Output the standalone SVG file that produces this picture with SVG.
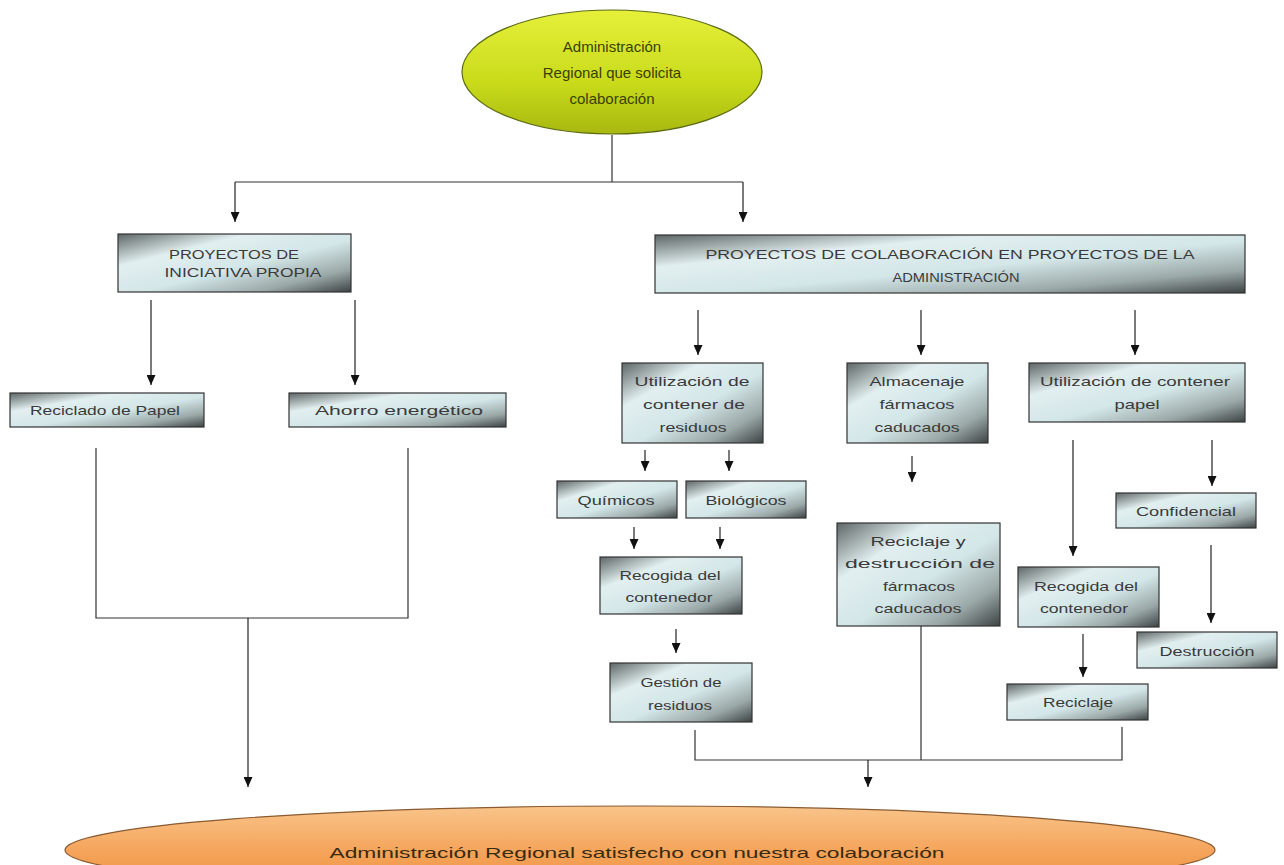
<svg xmlns="http://www.w3.org/2000/svg" width="1284" height="865" viewBox="0 0 1284 865">
<defs>
<linearGradient id="metal" x1="0" y1="0" x2="1" y2="1">
<stop offset="0" stop-color="#5e6666"/>
<stop offset="0.28" stop-color="#e2eff0"/>
<stop offset="0.55" stop-color="#d3e6e8"/>
<stop offset="0.8" stop-color="#9ba8a8"/>
<stop offset="1" stop-color="#3c4242"/>
</linearGradient>
<linearGradient id="green" x1="0" y1="0" x2="0" y2="1">
<stop offset="0" stop-color="#e6f03a"/>
<stop offset="0.6" stop-color="#c8da1a"/>
<stop offset="1" stop-color="#a8b810"/>
</linearGradient>
<linearGradient id="orange" x1="0" y1="0" x2="0" y2="1">
<stop offset="0" stop-color="#f9c48a"/>
<stop offset="0.5" stop-color="#f5a55c"/>
<stop offset="1" stop-color="#ee8e3c"/>
</linearGradient>
<marker id="arr" markerWidth="10" markerHeight="9" refX="10" refY="4.5" orient="auto" markerUnits="userSpaceOnUse" viewBox="0 0 10 9">
<path d="M0,0 L10,4.5 L0,9 Z" fill="#111"/>
</marker>
</defs>
<style>
.box{fill:url(#metal);stroke:#333;stroke-width:1.2}
.t{font-family:"Liberation Sans",Arial,sans-serif;font-size:13px;fill:#3a3a3a;text-anchor:middle}
.c{fill:none;stroke:#333;stroke-width:1.2}
.a{fill:none;stroke:#222;stroke-width:1.2;marker-end:url(#arr)}
</style>
<rect width="1284" height="865" fill="#fff"/>

<g id="connectors">
<path class="c" d="M612,135 V182 M235,182 H743"/>
<path class="a" d="M235,182 V222"/>
<path class="a" d="M743,182 V222"/>
<path class="a" d="M151,300 V385"/>
<path class="a" d="M355,300 V385"/>
<path class="c" d="M96,448 V618 H408 V448"/>
<path class="a" d="M248,618 V787"/>
<path class="a" d="M698,310 V355"/>
<path class="a" d="M921,310 V355"/>
<path class="a" d="M1135,310 V355"/>
<path class="a" d="M645,450 V471"/>
<path class="a" d="M729,450 V471"/>
<path class="a" d="M634,527 V549"/>
<path class="a" d="M720,527 V549"/>
<path class="a" d="M676,629 V653"/>
<path class="a" d="M912,456 V482"/>
<path class="a" d="M1073,440 V556"/>
<path class="a" d="M1212,440 V486"/>
<path class="a" d="M1211,545 V623"/>
<path class="a" d="M1083,634 V677"/>
<path class="c" d="M695,730 V760 H1122 V727 M921,626 V760"/>
<path class="a" d="M868,760 V787"/>
</g>

<g id="n-top">
<ellipse cx="612" cy="72" rx="150" ry="62" fill="url(#green)" stroke="#5a6a10" stroke-width="1.2"/>
<text class="t" x="612" y="52" style="font-size:15px;fill:#3a4000">Administración</text>
<text class="t" x="612" y="78" style="font-size:15px;fill:#3a4000">Regional que solicita</text>
<text class="t" x="612" y="104" style="font-size:15px;fill:#3a4000">colaboración</text>
</g>

<g id="n-propia">
<rect class="box" x="118" y="234" width="233" height="58"/>
<text class="t" x="234" y="259" textLength="130" lengthAdjust="spacingAndGlyphs">PROYECTOS DE</text>
<text class="t" x="243" y="277" textLength="157" lengthAdjust="spacingAndGlyphs">INICIATIVA PROPIA</text>
</g>

<g id="n-colab">
<rect class="box" x="655" y="235" width="590" height="58"/>
<text class="t" x="950" y="259" textLength="489" lengthAdjust="spacingAndGlyphs">PROYECTOS DE COLABORACIÓN EN PROYECTOS DE LA</text>
<text class="t" x="956" y="282" textLength="127" lengthAdjust="spacingAndGlyphs">ADMINISTRACIÓN</text>
</g>

<g id="n-papel">
<rect class="box" x="10" y="393" width="194" height="34"/>
<text class="t" x="105" y="415" textLength="150" lengthAdjust="spacingAndGlyphs">Reciclado de Papel</text>
</g>

<g id="n-ahorro">
<rect class="box" x="289" y="393" width="217" height="34"/>
<text class="t" x="399" y="415" textLength="168" lengthAdjust="spacingAndGlyphs">Ahorro energético</text>
</g>

<g id="n-util-res">
<rect class="box" x="622" y="363" width="141" height="80"/>
<text class="t" x="692" y="386" textLength="115" lengthAdjust="spacingAndGlyphs">Utilización de</text>
<text class="t" x="694" y="409" textLength="102" lengthAdjust="spacingAndGlyphs">contener de</text>
<text class="t" x="693" y="432" textLength="67" lengthAdjust="spacingAndGlyphs">residuos</text>
</g>

<g id="n-almac">
<rect class="box" x="847" y="363" width="141" height="80"/>
<text class="t" x="917" y="386" textLength="95" lengthAdjust="spacingAndGlyphs">Almacenaje</text>
<text class="t" x="917" y="409" textLength="75" lengthAdjust="spacingAndGlyphs">fármacos</text>
<text class="t" x="917" y="432" textLength="85" lengthAdjust="spacingAndGlyphs">caducados</text>
</g>

<g id="n-util-pap">
<rect class="box" x="1029" y="363" width="216" height="59"/>
<text class="t" x="1135" y="386" textLength="190" lengthAdjust="spacingAndGlyphs">Utilización de contener</text>
<text class="t" x="1137" y="409" textLength="45" lengthAdjust="spacingAndGlyphs">papel</text>
</g>

<g id="n-quim">
<rect class="box" x="557" y="481" width="120" height="37"/>
<text class="t" x="616" y="505" textLength="77" lengthAdjust="spacingAndGlyphs">Químicos</text>
</g>

<g id="n-bio">
<rect class="box" x="686" y="481" width="120" height="37"/>
<text class="t" x="746" y="505" textLength="81" lengthAdjust="spacingAndGlyphs">Biológicos</text>
</g>

<g id="n-recog1">
<rect class="box" x="600" y="557" width="142" height="57"/>
<text class="t" x="670" y="580" textLength="101" lengthAdjust="spacingAndGlyphs">Recogida del</text>
<text class="t" x="669" y="602" textLength="87" lengthAdjust="spacingAndGlyphs">contenedor</text>
</g>

<g id="n-gestion">
<rect class="box" x="610" y="663" width="142" height="59"/>
<text class="t" x="681" y="687" textLength="81" lengthAdjust="spacingAndGlyphs">Gestión de</text>
<text class="t" x="680" y="710" textLength="64" lengthAdjust="spacingAndGlyphs">residuos</text>
</g>

<g id="n-recdes">
<rect class="box" x="837" y="523" width="163" height="103"/>
<text class="t" x="918" y="546" textLength="95" lengthAdjust="spacingAndGlyphs">Reciclaje y</text>
<text class="t" x="920" y="568" textLength="150" lengthAdjust="spacingAndGlyphs">destrucción de</text>
<text class="t" x="919" y="591" textLength="72" lengthAdjust="spacingAndGlyphs">fármacos</text>
<text class="t" x="918" y="613" textLength="87" lengthAdjust="spacingAndGlyphs">caducados</text>
</g>

<g id="n-conf">
<rect class="box" x="1116" y="493" width="140" height="35"/>
<text class="t" x="1186" y="516" textLength="100" lengthAdjust="spacingAndGlyphs">Confidencial</text>
</g>

<g id="n-recog2">
<rect class="box" x="1018" y="567" width="141" height="60"/>
<text class="t" x="1086" y="591" textLength="104" lengthAdjust="spacingAndGlyphs">Recogida del</text>
<text class="t" x="1084" y="613" textLength="88" lengthAdjust="spacingAndGlyphs">contenedor</text>
</g>

<g id="n-destr">
<rect class="box" x="1137" y="632" width="140" height="36"/>
<text class="t" x="1207" y="656" textLength="95" lengthAdjust="spacingAndGlyphs">Destrucción</text>
</g>

<g id="n-recic">
<rect class="box" x="1007" y="684" width="141" height="36"/>
<text class="t" x="1078" y="707" textLength="70" lengthAdjust="spacingAndGlyphs">Reciclaje</text>
</g>

<g id="n-bottom">
<ellipse cx="640" cy="850" rx="575" ry="44" fill="url(#orange)" stroke="#8a5a30" stroke-width="1.2"/>
<text class="t" x="637" y="858" style="font-size:15px;fill:#3a2a10" textLength="615" lengthAdjust="spacingAndGlyphs">Administración Regional satisfecho con nuestra colaboración</text>
</g>
</svg>
